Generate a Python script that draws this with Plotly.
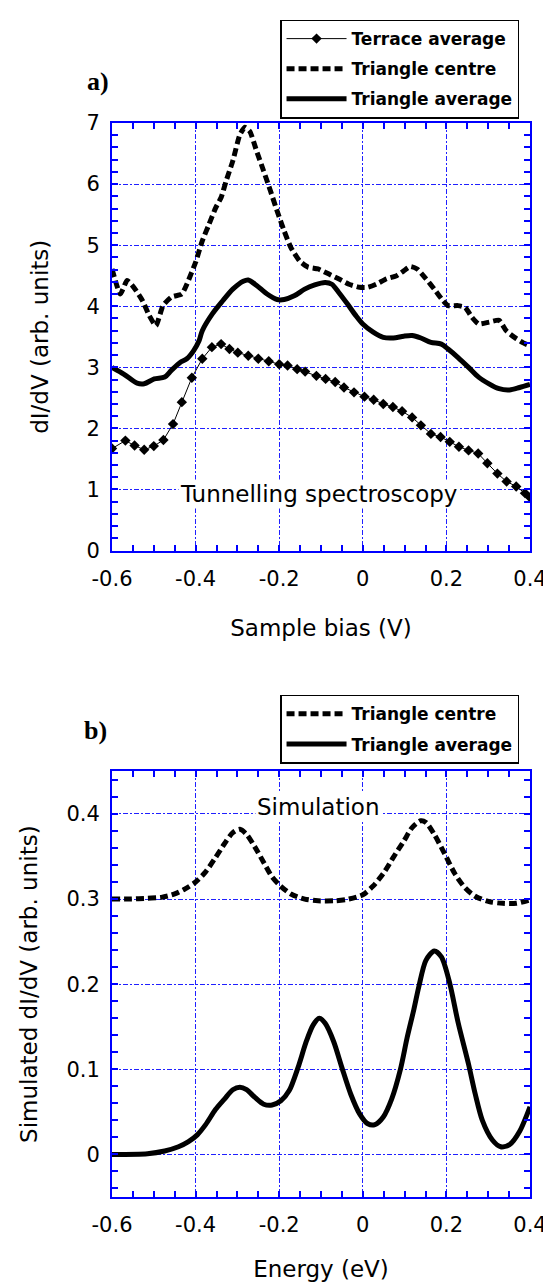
import plotly.graph_objects as go

# ---------------- a) Tunnelling spectroscopy ----------------
terrace_bias = [-0.6, -0.568, -0.546, -0.523, -0.5, -0.477, -0.454, -0.433, -0.409, -0.384,
                -0.361, -0.339, -0.319, -0.299, -0.274, -0.25, -0.225, -0.2, -0.18, -0.157,
                -0.138, -0.111, -0.089, -0.066, -0.045, -0.021, 0.004, 0.026, 0.049, 0.072,
                0.094, 0.118, 0.139, 0.163, 0.186, 0.208, 0.23, 0.253, 0.276, 0.298,
                0.322, 0.344, 0.367, 0.388, 0.4]
terrace_didv = [1.67, 1.80, 1.72, 1.65, 1.71, 1.81, 2.07, 2.43, 2.83, 3.14,
                3.33, 3.38, 3.30, 3.24, 3.19, 3.14, 3.10, 3.05, 3.03, 2.97,
                2.93, 2.86, 2.81, 2.76, 2.67, 2.59, 2.52, 2.47, 2.40, 2.35,
                2.28, 2.18, 2.05, 1.91, 1.86, 1.78, 1.70, 1.64, 1.59, 1.43,
                1.26, 1.13, 1.05, 0.94, 0.87]

centre_bias = [-0.6, -0.58, -0.564, -0.548, -0.527, -0.511, -0.495, -0.478, -0.458, -0.433,
               -0.421, -0.4, -0.384, -0.368, -0.352, -0.339, -0.327, -0.311, -0.294, -0.282,
               -0.27, -0.254, -0.237, -0.221, -0.205, -0.188, -0.172, -0.151, -0.131, -0.107,
               -0.082, -0.058, -0.033, -0.008, 0.012, 0.032, 0.057, 0.081, 0.098, 0.114,
               0.13, 0.151, 0.171, 0.192, 0.204, 0.228, 0.245, 0.261, 0.277, 0.302,
               0.326, 0.343, 0.363, 0.384, 0.4]
centre_didv = [4.61, 4.20, 4.42, 4.31, 4.09, 3.85, 3.68, 4.01, 4.15, 4.20,
               4.36, 4.72, 5.07, 5.34, 5.61, 5.78, 6.05, 6.38, 6.81, 6.93,
               6.86, 6.54, 6.21, 5.89, 5.56, 5.23, 4.96, 4.74, 4.64, 4.61,
               4.53, 4.45, 4.36, 4.31, 4.31, 4.36, 4.45, 4.50, 4.58, 4.65,
               4.61, 4.45, 4.28, 4.09, 4.01, 4.01, 3.98, 3.82, 3.71, 3.74,
               3.77, 3.60, 3.49, 3.40, 3.35]

average_bias = [-0.6, -0.572, -0.54, -0.523, -0.499, -0.474, -0.458, -0.437, -0.421, -0.405,
                -0.392, -0.384, -0.36, -0.335, -0.311, -0.286, -0.274, -0.254, -0.229, -0.205,
                -0.188, -0.164, -0.139, -0.115, -0.09, -0.074, -0.058, -0.037, -0.017, 0.0,
                0.024, 0.049, 0.073, 0.098, 0.118, 0.139, 0.163, 0.188, 0.204, 0.228,
                0.253, 0.277, 0.302, 0.326, 0.351, 0.375, 0.4]
average_didv = [3.00, 2.89, 2.74, 2.73, 2.81, 2.84, 2.95, 3.08, 3.14, 3.27,
                3.43, 3.60, 3.875, 4.09, 4.28, 4.41, 4.43, 4.34, 4.20, 4.11,
                4.11, 4.17, 4.28, 4.35, 4.39, 4.36, 4.23, 4.04, 3.85, 3.71,
                3.58, 3.49, 3.48, 3.51, 3.52, 3.48, 3.41, 3.38, 3.30, 3.16,
                3.00, 2.84, 2.73, 2.65, 2.63, 2.67, 2.72]

# ---------------- b) Simulation ----------------
sim_centre_energy = [-0.6, -0.556, -0.515, -0.482, -0.45, -0.425, -0.4, -0.376, -0.352, -0.331,
                     -0.311, -0.294, -0.278, -0.258, -0.237, -0.217, -0.196, -0.172, -0.139, -0.107,
                     -0.066, -0.033, 0.0, 0.024, 0.049, 0.073, 0.098, 0.118, 0.139, 0.151,
                     0.171, 0.196, 0.22, 0.245, 0.27, 0.302, 0.335, 0.367, 0.4]
sim_centre = [0.300, 0.300, 0.301, 0.302, 0.306, 0.312, 0.320, 0.332, 0.349, 0.365,
              0.378, 0.382, 0.376, 0.361, 0.343, 0.326, 0.315, 0.306, 0.300, 0.298,
              0.298, 0.300, 0.305, 0.315, 0.330, 0.349, 0.368, 0.384, 0.392, 0.390,
              0.376, 0.353, 0.330, 0.313, 0.303, 0.297, 0.295, 0.295, 0.299]

sim_average_energy = [-0.6, -0.515, -0.474, -0.441, -0.417, -0.396, -0.376, -0.352, -0.331, -0.311,
                      -0.294, -0.278, -0.258, -0.237, -0.217, -0.196, -0.176, -0.155, -0.135, -0.119,
                      -0.104, -0.09, -0.07, -0.05, -0.029, -0.008, 0.012, 0.029, 0.049, 0.069,
                      0.09, 0.106, 0.122, 0.134, 0.151, 0.171, 0.188, 0.208, 0.228, 0.253,
                      0.269, 0.286, 0.31, 0.33, 0.351, 0.375, 0.4]
sim_average = [0.0, 0.0008, 0.004, 0.009, 0.015, 0.023, 0.035, 0.053, 0.065, 0.076,
               0.079, 0.076, 0.067, 0.059, 0.058, 0.063, 0.075, 0.102, 0.133, 0.152,
               0.160, 0.154, 0.133, 0.102, 0.071, 0.048, 0.036, 0.035, 0.044, 0.065,
               0.100, 0.137, 0.170, 0.197, 0.228, 0.239, 0.232, 0.201, 0.155, 0.106,
               0.071, 0.040, 0.017, 0.009, 0.0115, 0.027, 0.056]

x_tickvals = [-0.6, -0.4, -0.2, 0, 0.2, 0.4]
x_ticktext = ["-0.6", "-0.4", "-0.2", "0", "0.2", "0.4"]
ya_tickvals = [0, 1, 2, 3, 4, 5, 6, 7]
yb_tickvals = [0, 0.1, 0.2, 0.3, 0.4]
yb_ticktext = ["0", "0.1", "0.2", "0.3", "0.4"]

BLUE = "#0000ff"
GRID_BLUE = "#2020ff"
SANS = "DejaVu Sans, sans-serif"
SERIF = "Liberation Serif, Times New Roman, serif"
GRID_DASH = "5px,2px,2px,2px"

fig = go.Figure()

fig.add_trace(go.Scatter(
    x=terrace_bias, y=terrace_didv, name="Terrace average", mode="lines+markers",
    line=dict(color="black", width=1), marker=dict(symbol="diamond", size=8, color="black"),
    xaxis="x", yaxis="y", legend="legend", legendgroup="t"))
fig.add_trace(go.Scatter(
    x=centre_bias, y=centre_didv, name="Triangle centre", mode="lines",
    line=dict(color="black", width=5, dash="8px,4px", shape="spline", smoothing=0.5),
    xaxis="x", yaxis="y", legend="legend", legendgroup="c"))
fig.add_trace(go.Scatter(
    x=average_bias, y=average_didv, name="Triangle average", mode="lines",
    line=dict(color="black", width=5, shape="spline", smoothing=0.8),
    xaxis="x", yaxis="y", legend="legend", legendgroup="a"))

fig.add_trace(go.Scatter(
    x=sim_centre_energy, y=sim_centre, name="Triangle centre", mode="lines",
    line=dict(color="black", width=5, dash="8px,4px", shape="spline", smoothing=0.8),
    xaxis="x2", yaxis="y2", legend="legend2", legendgroup="c2"))
fig.add_trace(go.Scatter(
    x=sim_average_energy, y=sim_average, name="Triangle average", mode="lines",
    line=dict(color="black", width=5, shape="spline", smoothing=0.8),
    xaxis="x2", yaxis="y2", legend="legend2", legendgroup="a2"))

common_axis = dict(
    showline=True, linecolor=BLUE, linewidth=2, mirror="ticks",
    ticks="inside", ticklen=6, tickwidth=1.5, tickcolor=BLUE,
    showgrid=True, gridcolor=GRID_BLUE, gridwidth=1.3, griddash=GRID_DASH,
    zeroline=False, tickfont=dict(family=SANS, size=21, color="black"),
)
title_font = dict(family=SANS, size=23, color="black")
legend_font = dict(family=SANS, size=17, color="black", weight="bold")

TOP_A = 0.6019
fig.update_layout(
    width=551, height=1282,
    margin=dict(l=104, r=17, t=114, b=88),
    paper_bgcolor="white", plot_bgcolor="white",
    showlegend=True,
    xaxis=dict(common_axis, domain=[0, 1], anchor="y", range=[-0.6, 0.4],
               tickvals=x_tickvals, ticktext=x_ticktext,
               minor=dict(dtick=0.05, tick0=-0.6, ticks="inside", ticklen=6, tickwidth=1.5,
                          tickcolor=BLUE, showgrid=False),
               ticklabelstandoff=8,
               title=dict(text="Sample bias (V)", font=title_font, standoff=30)),
    yaxis=dict(common_axis, domain=[TOP_A, 1], anchor="x", range=[0, 7],
               tickvals=ya_tickvals,
               minor=dict(dtick=0.2, tick0=0, ticks="inside", ticklen=6, tickwidth=1.5,
                          tickcolor=BLUE, showgrid=False),
               ticklabelstandoff=6,
               title=dict(text="dI/dV (arb. units)", font=title_font, standoff=31)),
    xaxis2=dict(common_axis, domain=[0, 1], anchor="y2", range=[-0.6, 0.4],
                tickvals=x_tickvals, ticktext=x_ticktext,
                minor=dict(dtick=0.05, tick0=-0.6, ticks="inside", ticklen=6, tickwidth=1.5,
                           tickcolor=BLUE, showgrid=False),
                ticklabelstandoff=8,
                title=dict(text="Energy (eV)", font=title_font, standoff=25)),
    yaxis2=dict(common_axis, domain=[0, 0.3963], anchor="x2", range=[-0.05, 0.45],
                tickvals=yb_tickvals, ticktext=yb_ticktext,
                minor=dict(dtick=0.02, tick0=0, ticks="inside", ticklen=6, tickwidth=1.5,
                           tickcolor=BLUE, showgrid=False),
                ticklabelstandoff=6,
                title=dict(text="Simulated dI/dV (arb. units)", font=title_font, standoff=22)),
    legend=dict(x=0.402, xanchor="left", y=1.0963, yanchor="top",
                bgcolor="white", bordercolor="black", borderwidth=1.5,
                font=legend_font, traceorder="grouped", tracegroupgap=5, itemwidth=60),
    legend2=dict(x=0.402, xanchor="left", y=0.4676, yanchor="top",
                 bgcolor="white", bordercolor="black", borderwidth=1.5,
                 font=legend_font, traceorder="grouped", tracegroupgap=5, itemwidth=60),
)

fig.add_annotation(text="<b>a)</b>", xref="paper", yref="paper", x=-0.0326, y=1.039,
                   xanchor="center", yanchor="middle", showarrow=False,
                   font=dict(family=SERIF, size=26, color="black"))
fig.add_annotation(text="<b>b)</b>", xref="paper", yref="paper", x=-0.0395, y=0.4343,
                   xanchor="center", yanchor="middle", showarrow=False,
                   font=dict(family=SERIF, size=26, color="black"))
fig.add_annotation(text="Tunnelling spectroscopy", xref="x", yref="y", x=-0.105, y=0.92,
                   showarrow=False, bgcolor="white", font=title_font)
fig.add_annotation(text="Simulation", xref="x2", yref="y2", x=-0.107, y=0.408,
                   showarrow=False, bgcolor="white", font=title_font)

fig.write_html("out.html")
